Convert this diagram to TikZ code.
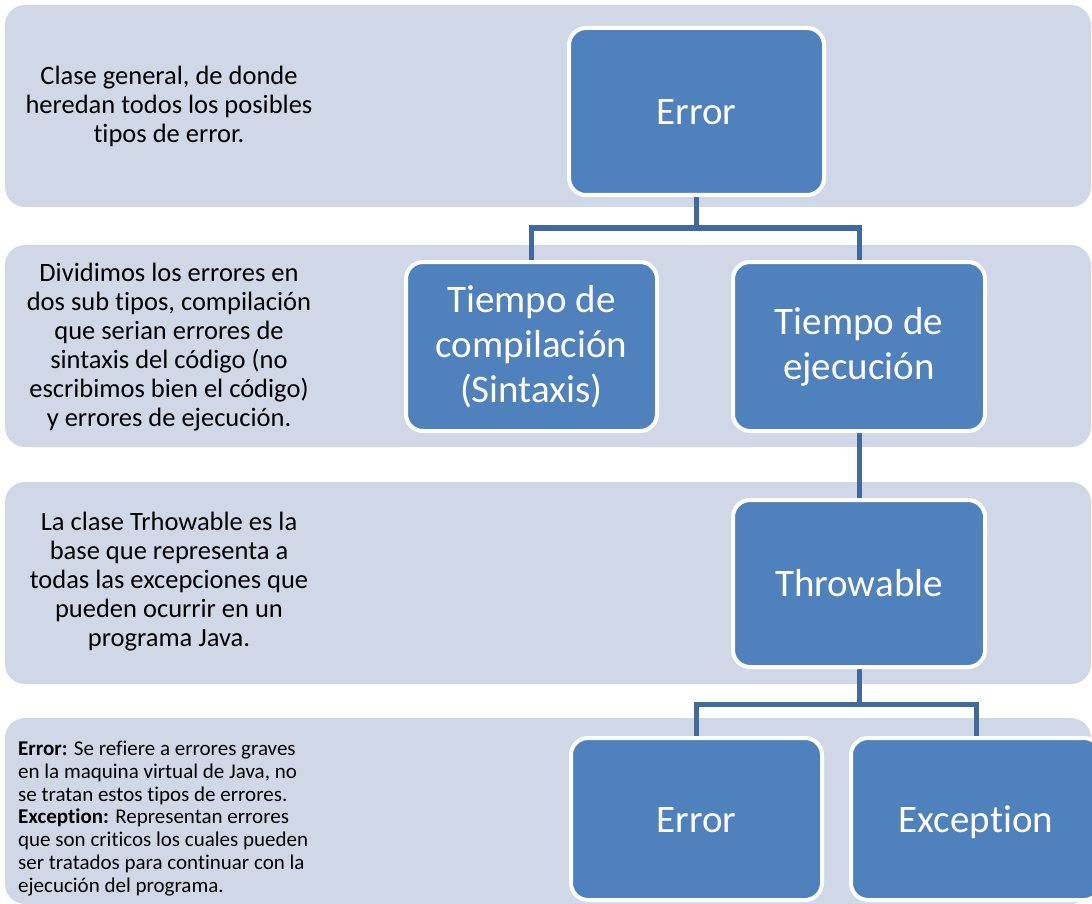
\documentclass[tikz,border=0pt]{standalone}
\usepackage{fontspec}
\setmainfont{Carlito}[Ligatures=NoCommon]
\definecolor{bandc}{HTML}{D0D8E8}
\definecolor{nodeblue}{HTML}{4F81BD}
\definecolor{connc}{HTML}{416A9C}
\pgfdeclarelayer{bglayer}
\pgfdeclarelayer{connlayer}
\pgfsetlayers{bglayer,connlayer,main}
\begin{document}
\begin{tikzpicture}[x=1pt,y=-1pt,
  bandbox/.style={fill=bandc, rounded corners=20pt},
  box/.style={draw=white, line width=4pt, fill=nodeblue, rounded corners=17pt,
    text=white, font=\fontsize{39}{45}\selectfont, align=center, inner sep=0pt},
  oneline/.style={text height=26pt, text depth=0pt},
  desc/.style={font=\fontsize{26.5}{29}\selectfont, align=center, text=black, inner sep=0pt},
  smalldesc/.style={font=\fontsize{21}{22.8}\selectfont, align=left, text=black, inner sep=0pt},
  connline/.style={draw=connc, line width=5pt}]
\useasboundingbox (0,0) rectangle (1092,904);
\clip (0,0) rectangle (1092,904);

% nodes
\node[box, oneline, minimum width=255, minimum height=167] (err) at (696.5,111.5) {Error};
\node[box, minimum width=251, minimum height=169] (comp) at (531.5,346.5) {Tiempo de\\compilación\\(Sintaxis)};
\node[box, minimum width=252, minimum height=169] (ejec) at (859,346.5) {Tiempo de\\ejecución};
\node[box, oneline, minimum width=252, minimum height=167] (thr) at (859,583.5) {Throwable};
\node[box, oneline, minimum width=251, minimum height=162] (err2) at (696.5,819) {Error};
\node[box, oneline, minimum width=250, minimum height=162] (exc) at (976,819) {Exception};

% description texts
\node[desc] (d1) at (169,106) {Clase general, de donde\\heredan todos los posibles\\tipos de error.};
\node[desc] (d2) at (169,347) {Dividimos los errores en\\dos sub tipos, compilación\\que serian errores de\\sintaxis del código (no\\escribimos bien el código)\\y errores de ejecución.};
\node[desc] (d3) at (169,582) {La clase Trhowable es la\\base que representa a\\todas las excepciones que\\pueden ocurrir en un\\programa Java.};
\node[smalldesc, anchor=west] (d4) at (18,818.5) {\textbf{Error:} Se refiere a errores graves\\en la maquina virtual de Java, no\\se tratan estos tipos de errores.\\\textbf{Exception:} Representan errores\\que son criticos los cuales pueden\\ser tratados para continuar con la\\ejecución del programa.};

\begin{pgfonlayer}{bglayer}
  \fill[bandbox] (5,5) rectangle (1091,207);
  \fill[bandbox] (5,245) rectangle (1091,447);
  \fill[bandbox] (5,482) rectangle (1091,684);
  \fill[bandbox] (5,718) rectangle (1091,904);
\end{pgfonlayer}

\begin{pgfonlayer}{connlayer}
  \coordinate (j1) at (696.5,228);
  \coordinate (j2) at (859,704);
  \draw[connline] (err.south) -- (j1);
  \draw[connline] (comp.north) |- (j1) -| (ejec.north);
  \draw[connline] (ejec.south) -- (thr.north);
  \draw[connline] (thr.south) -- (j2);
  \draw[connline] (err2.north) |- (j2) -| (exc.north);
\end{pgfonlayer}
\end{tikzpicture}
\end{document}
